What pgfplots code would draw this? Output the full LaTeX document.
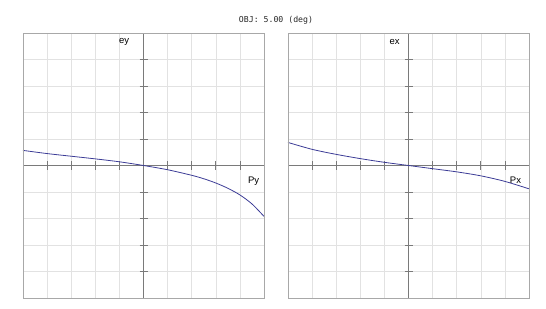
\documentclass[border=0pt]{standalone}
\usepackage{pgfplots}
\pgfplotsset{compat=1.18}
\usepackage{fontspec}
\setmainfont{Liberation Sans}
\newfontfamily\monof{DejaVu Sans Mono}
\definecolor{curve}{HTML}{3C3C96}
\definecolor{gridc}{HTML}{E2E2E2}
\definecolor{boxc}{HTML}{A8A8A8}
\definecolor{axc}{HTML}{7A7A7A}
\pgfplotsset{
  panel/.style={
    scale only axis, width=241pt, height=265pt,
    xmin=-5, xmax=5, ymin=-5, ymax=5,
    axis lines=middle, axis line style={-, axc, line width=0.8pt},
    xtick={-5,...,5}, ytick={-5,...,5},
    xticklabels={}, yticklabels={},
    tick align=center, major tick length=8pt,
    xtick style={axc, line width=0.8pt},
    ytick style={axc, line width=0.8pt},
    grid=major, major grid style={gridc, line width=0.6pt},
    clip=false,
    after end axis/.code={\draw[boxc, line width=0.8pt] (rel axis cs:0,0) rectangle (rel axis cs:1,1);},
  }
}
\begin{document}
\begin{tikzpicture}
\useasboundingbox (0,0) rectangle (546pt,308pt);
\node[font=\monof\fontsize{8.2}{9}\selectfont, text=black!85] at (276pt,288pt) {OBJ: 5.00 (deg)};
\begin{axis}[panel, at={(23pt,10pt)}, anchor=south west]
\addplot[curve, line width=0.8pt, smooth] coordinates {
(-5,0.57) (-4,0.45) (-3,0.35) (-2,0.25) (-1,0.14) (0,0) (1,-0.16) (2,-0.37) (2.5,-0.50) (3,-0.66) (3.5,-0.86) (4,-1.11) (4.5,-1.45) (5,-1.92)};
\node[font=\fontsize{9.5}{10}\selectfont] at (axis cs:-0.8,4.66) {ey};
\node[font=\fontsize{9.5}{10}\selectfont] at (axis cs:4.57,-0.58) {Py};
\end{axis}
\begin{axis}[panel, at={(288pt,10pt)}, anchor=south west]
\addplot[curve, line width=0.8pt, smooth] coordinates {
(-5,0.87) (-4,0.61) (-3,0.42) (-2,0.26) (-1,0.12) (0,0) (1,-0.12) (2,-0.24) (3,-0.39) (4,-0.60) (5,-0.88)};
\node[font=\fontsize{9.5}{10}\selectfont] at (axis cs:-0.58,4.66) {ex};
\node[font=\fontsize{9.5}{10}\selectfont] at (axis cs:4.44,-0.55) {Px};
\end{axis}
\end{tikzpicture}
\end{document}
